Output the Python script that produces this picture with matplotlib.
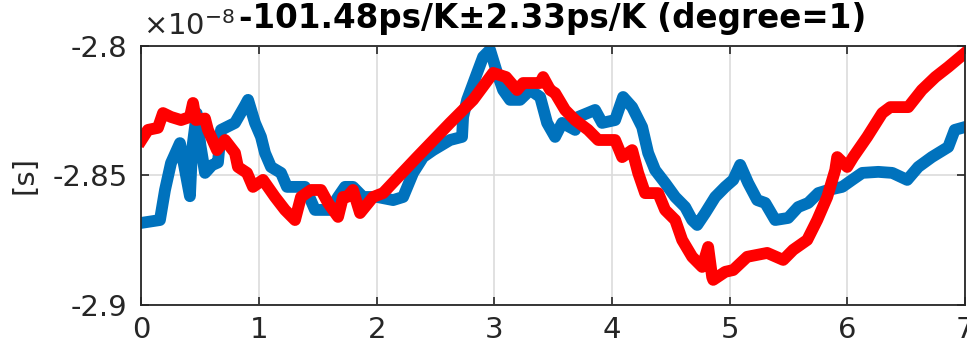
import matplotlib
matplotlib.use('Agg')
import matplotlib.pyplot as plt
import numpy as np

# data (x unitless, y in units of 1e-8 s)
blue_x = [0.00, 0.157, 0.20, 0.251, 0.327, 0.412, 0.43, 0.47, 0.50, 0.54, 0.60, 0.65, 0.676, 0.795, 0.88, 0.906,
          0.965, 1.016, 1.05, 1.101, 1.186, 1.237, 1.39, 1.475, 1.603, 1.671, 1.73, 1.798, 1.883, 2.003, 2.139,
          2.224, 2.309, 2.394, 2.479, 2.623, 2.725, 2.734, 2.768, 2.853, 2.904, 2.963, 3.023, 3.074, 3.133, 3.218,
          3.304, 3.389, 3.448, 3.516, 3.576, 3.686, 3.712, 3.856, 3.916, 4.026, 4.094, 4.171, 4.256, 4.307, 4.366,
          4.451, 4.537, 4.622, 4.681, 4.724, 4.792, 4.877, 4.962, 5.03, 5.089, 5.157, 5.234, 5.302, 5.387, 5.497,
          5.582, 5.668, 5.753, 5.838, 5.957, 6.041, 6.127, 6.263, 6.382, 6.509, 6.603, 6.718, 6.858, 6.913, 7.0]
blue_y = [-2.8683, -2.8672, -2.8556, -2.8452, -2.8375, -2.8580, -2.8400, -2.8260, -2.8380, -2.8490, -2.8460,
          -2.8450, -2.8324, -2.8297, -2.8230, -2.8208, -2.8297, -2.8351, -2.8413, -2.8467, -2.8490, -2.8544,
          -2.8544, -2.8633, -2.8633, -2.8583, -2.8544, -2.8544, -2.8583, -2.8583, -2.8595, -2.8583, -2.8490,
          -2.8429, -2.8402, -2.8363, -2.8351, -2.8274, -2.8208, -2.8104, -2.8042, -2.8015, -2.8104, -2.8170,
          -2.8208, -2.8208, -2.8170, -2.8197, -2.8297, -2.8351, -2.8297, -2.8324, -2.8274, -2.8247, -2.8297,
          -2.8286, -2.8197, -2.8236, -2.8313, -2.8413, -2.8479, -2.8529, -2.8583, -2.8622, -2.8672, -2.8691,
          -2.8645, -2.8583, -2.8544, -2.8517, -2.8459, -2.8529, -2.8595, -2.8606, -2.8672, -2.8664, -2.8622,
          -2.8606, -2.8568, -2.8556, -2.8544, -2.8517, -2.8490, -2.8486, -2.8490, -2.8517, -2.8467, -2.8429,
          -2.8390, -2.8324, -2.8313]

red_x = [0.00, 0.055, 0.14, 0.183, 0.251, 0.336, 0.412, 0.438, 0.463, 0.54, 0.565, 0.642, 0.71, 0.795, 0.82,
         0.897, 0.948, 1.033, 1.135, 1.22, 1.305, 1.356, 1.441, 1.526, 1.586, 1.671, 1.713, 1.747, 1.798, 1.858,
         1.969, 2.054, 2.343, 2.623, 2.819, 2.989, 3.099, 3.193, 3.244, 3.389, 3.414, 3.474, 3.516, 3.601, 3.686,
         3.797, 3.882, 4.026, 4.086, 4.171, 4.222, 4.281, 4.392, 4.451, 4.537, 4.596, 4.681, 4.766, 4.817, 4.851,
         4.86, 4.962, 5.03, 5.149, 5.319, 5.455, 5.54, 5.659, 5.744, 5.829, 5.897, 5.914, 5.999, 6.05, 6.169,
         6.297, 6.365, 6.518, 6.633, 6.748, 6.858, 7.0]
red_y = [-2.8363, -2.8324, -2.8316, -2.8259, -2.8274, -2.8286, -2.8274, -2.8220, -2.8286, -2.8280, -2.8324,
         -2.8402, -2.8363, -2.8413, -2.8467, -2.8490, -2.8544, -2.8517, -2.8583, -2.8633, -2.8672, -2.8583,
         -2.8556, -2.8556, -2.8606, -2.8660, -2.8583, -2.8583, -2.8556, -2.8645, -2.8583, -2.8568, -2.8429,
         -2.8297, -2.8208, -2.8104, -2.8120, -2.8170, -2.8143, -2.8143, -2.8120, -2.8170, -2.8182, -2.8247,
         -2.8286, -2.8324, -2.8363, -2.8363, -2.8429, -2.8402, -2.8490, -2.8568, -2.8568, -2.8633, -2.8672,
         -2.8749, -2.8814, -2.8853, -2.8776, -2.8892, -2.8903, -2.8872, -2.8865, -2.8814, -2.8799, -2.8826,
         -2.8787, -2.8749, -2.8672, -2.8583, -2.8479, -2.8429, -2.8467, -2.8429, -2.8351, -2.8259, -2.8236,
         -2.8236, -2.8170, -2.8120, -2.8081, -2.8027]

yticks = [-2.9, -2.85, -2.8]
ytick_labels = ['-2.9', '-2.85', '-2.8']
xticks = [0, 1, 2, 3, 4, 5, 6, 7]
title = '-101.48ps/K\u00b12.33ps/K (degree=1)'

gray = '#262626'
fig = plt.figure(figsize=(9.67, 3.45), dpi=100)
ax = fig.add_axes([0.1463, 0.116, 0.8516, 0.7507])

scale = 1e-8
ax.plot(blue_x, np.array(blue_y) * scale, color='#0072BD', lw=8.5, solid_joinstyle='round')
ax.plot(red_x, np.array(red_y) * scale, color='#FF0000', lw=8.5, solid_joinstyle='round')

ax.set_xlim(0, 7)
ax.set_ylim(-2.9e-8, -2.8e-8)
ax.set_xticks(xticks)
ax.set_xticklabels([str(t) for t in xticks])
ax.set_yticks([t * scale for t in yticks])
ax.set_yticklabels(ytick_labels)
ax.grid(True, color='#dcdcdc', lw=1.2)
ax.set_axisbelow(True)
ax.tick_params(direction='in', top=True, right=True, length=6, width=1.2, colors=gray,
               labelsize=21)
ax.tick_params(axis='x', pad=8)
ax.tick_params(axis='y', pad=10)
for s in ax.spines.values():
    s.set_color(gray)
    s.set_linewidth(1.3)

ax.set_ylabel('[s]', fontsize=21, color=gray, labelpad=10)
fig.text(0.1475, 0.8986, r'$\times10^{-8}$', fontsize=21, color=gray, ha='left', va='baseline')
fig.text(0.5714, 0.919, title, fontsize=23.5, fontweight='bold', color='black', ha='center', va='baseline')

fig.savefig('out.png', dpi=100)
